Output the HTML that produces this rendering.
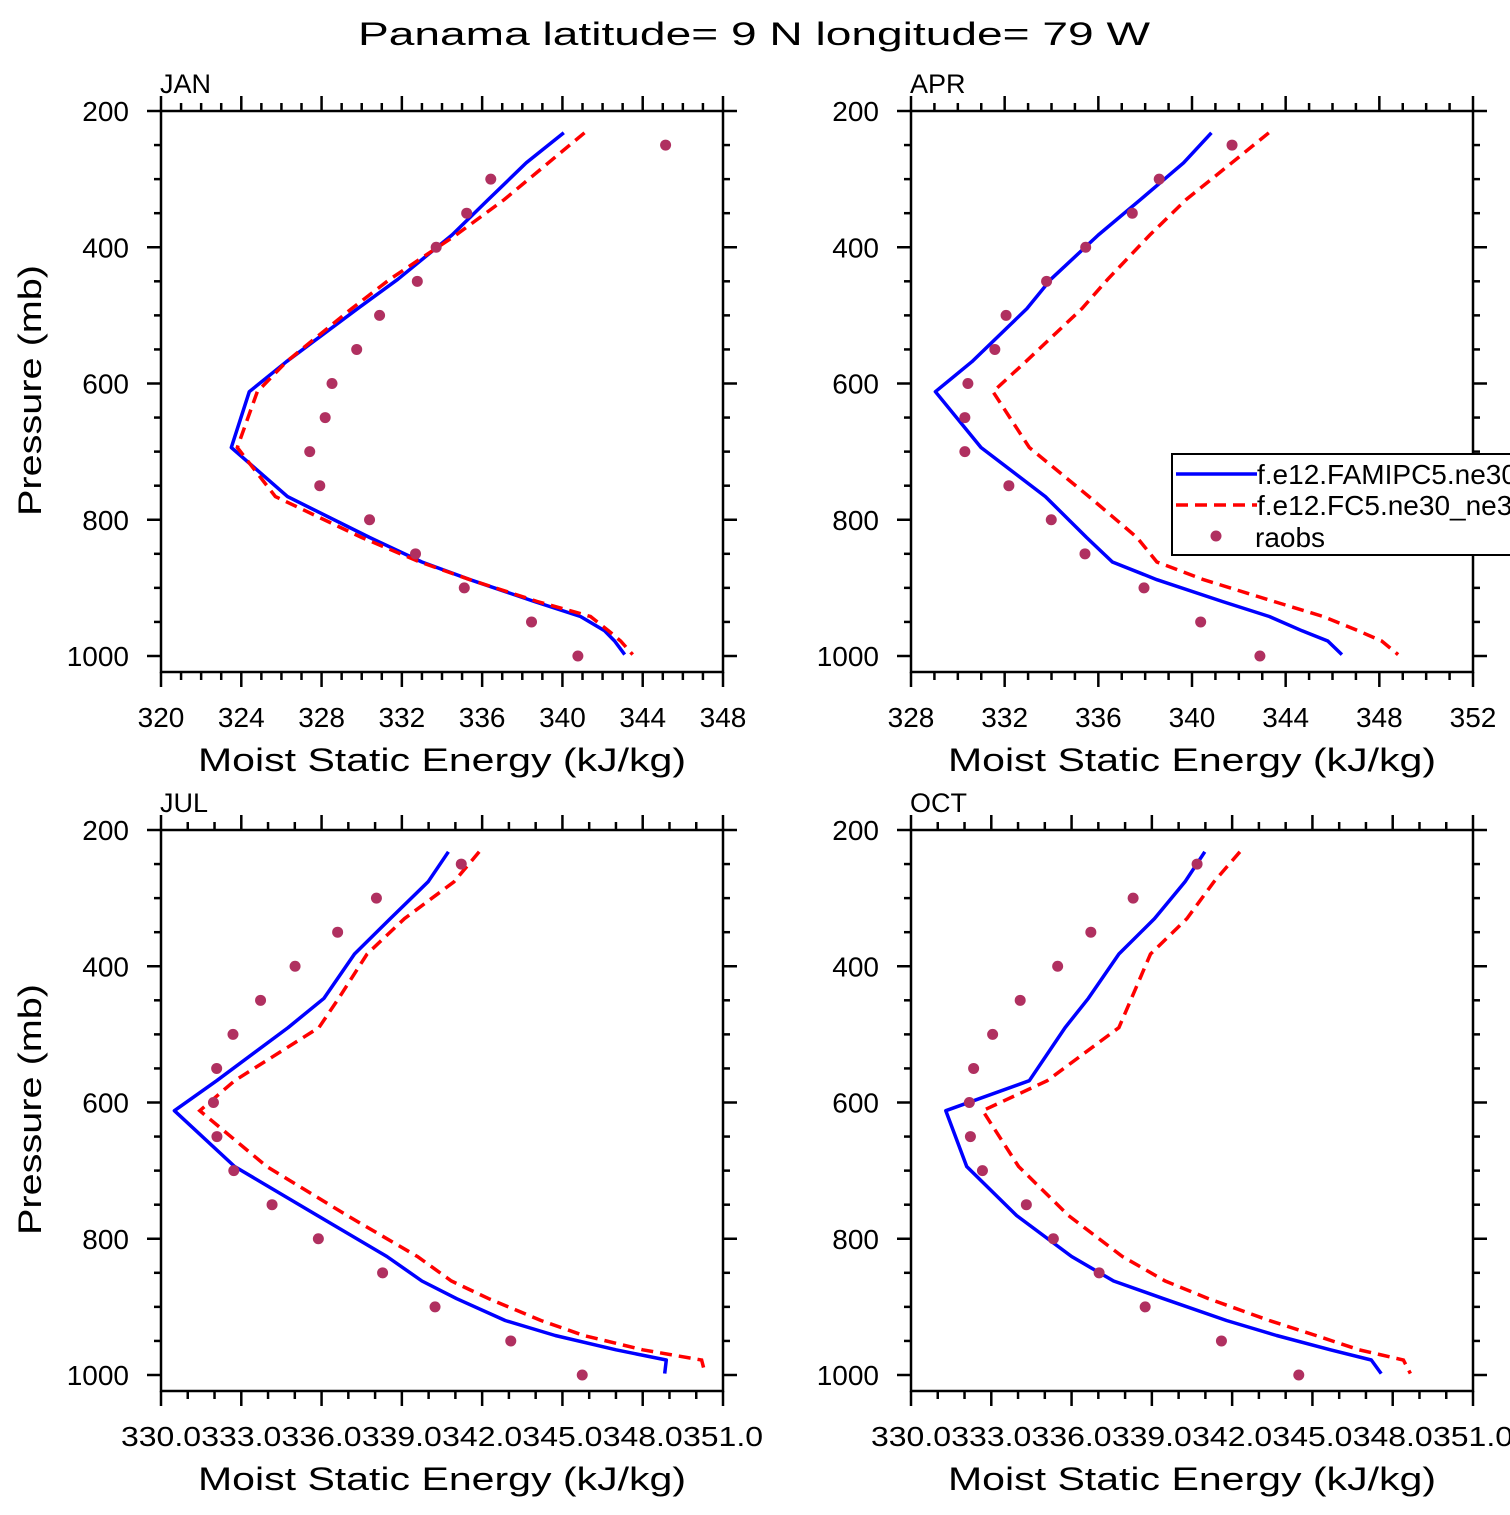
<!DOCTYPE html>
<html><head><meta charset="utf-8"><style>
html,body{margin:0;padding:0;background:#fff;}
svg text{font-family:"Liberation Sans",sans-serif;fill:#000;}
</style></head><body>
<svg id="chart" width="1510" height="1510" viewBox="0 0 1510 1510" xmlns="http://www.w3.org/2000/svg">
<text x="754" y="45" text-anchor="middle" font-size="32" textLength="792" lengthAdjust="spacingAndGlyphs">Panama  latitude= 9 N longitude= 79 W</text>
</svg>
<script>
// model levels (mb) and raob levels (mb)
const modelLevels = [232,276,330,382,447,490,568,612,694,766,826,862,888,920,942,963,978,998];
const raobLevels = [250,300,350,400,450,500,550,600,650,700,750,800,850,900,950,1000];
const panelNames = ['JAN','APR','JUL','OCT'];
const xTickLabelsJan = ['320','324','328','332','336','340','344','348'];
const xTickLabelsApr = ['328','332','336','340','344','348','352'];
const xTickLabelsJul = ['330.0','333.0','336.0','339.0','342.0','345.0','348.0','351.0'];
const xTickLabelsOct = ['330.0','333.0','336.0','339.0','342.0','345.0','348.0','351.0'];
const yTickLabels = ['200','400','600','800','1000'];
const janBlue = [340.07,338.2,336.3,334.5,331.8,329.8,326.25,324.4,323.5,326.3,330.4,333.0,335.4,338.6,340.9,342.1,342.6,343.1];
const janRed = [341.1,339.3,337.1,334.7,331.4,329.5,326.25,324.8,323.8,325.7,330.0,332.9,335.4,338.75,341.4,342.3,342.9,343.5];
const janRaobs = [345.14,336.43,335.23,333.71,332.77,330.89,329.75,328.52,328.18,327.41,327.91,330.39,332.68,335.11,338.46,340.77];
const aprBlue = [340.83,339.64,337.8,336.0,333.97,332.95,330.6,329.04,330.99,333.74,335.5,336.6,338.5,341.3,343.3,344.7,345.8,346.4];
const aprRed = [343.28,341.7,339.75,338.2,336.4,335.3,332.9,331.5,333.05,335.6,337.65,338.5,340.5,343.5,345.6,347.1,348.1,348.8];
const aprRaobs = [341.71,338.6,337.45,335.46,333.79,332.06,331.58,330.43,330.30,330.30,332.18,333.99,335.43,337.95,340.37,342.90];
const julBlue = [340.74,339.98,338.57,337.23,336.09,334.75,332.08,330.5,332.75,335.85,338.44,339.75,341.05,342.86,344.73,347.0,348.88,348.82];
const julRed = [341.89,340.95,339.1,337.7,336.64,335.9,332.75,331.45,333.95,336.96,339.58,340.85,342.25,344.2,345.8,348.0,350.2,350.33];
const julRaobs = [341.22,338.05,336.60,335.01,333.72,332.69,332.08,331.96,332.09,332.72,334.15,335.88,338.28,340.24,343.07,345.74];
const octBlue = [340.98,340.24,339.1,337.77,336.63,335.76,334.42,331.3,332.08,333.95,336.0,337.57,339.44,341.79,343.66,345.67,347.2,347.57];
const octRed = [342.29,341.32,340.31,338.95,338.24,337.77,335.09,332.68,334.02,335.89,337.9,339.5,341.12,343.39,345.13,346.74,348.4,348.66];
const octRaobs = [340.69,338.30,336.72,335.48,334.08,333.05,332.34,332.18,332.22,332.67,334.31,335.32,337.03,338.75,341.60,344.49];
const legendLabels = ['f.e12.FAMIPC5.ne30_g16.amip','f.e12.FC5.ne30_ne30.001','raobs'];

const NS='http://www.w3.org/2000/svg';
const svg=document.getElementById('chart');
function mk(tag,attrs,parent){const e=document.createElementNS(NS,tag);for(const k in attrs)e.setAttribute(k,attrs[k]);(parent||svg).appendChild(e);return e;}

const panels=[
 {name:panelNames[0],x0:161,y0:111,xmin:320,xmax:348,xmaj:4,xminor:1,labels:xTickLabelsJan,blue:janBlue,red:janRed,raobs:janRaobs,left:true,fit:false},
 {name:panelNames[1],x0:911,y0:111,xmin:328,xmax:352,xmaj:4,xminor:1,labels:xTickLabelsApr,blue:aprBlue,red:aprRed,raobs:aprRaobs,left:false,fit:false,legend:true},
 {name:panelNames[2],x0:161,y0:830,xmin:330,xmax:351,xmaj:3,xminor:1,labels:xTickLabelsJul,blue:julBlue,red:julRed,raobs:julRaobs,left:true,fit:true},
 {name:panelNames[3],x0:911,y0:830,xmin:330,xmax:351,xmaj:3,xminor:1,labels:xTickLabelsOct,blue:octBlue,red:octRed,raobs:octRaobs,left:false,fit:true}
];
const W=562,H=561,PPM=545/800;

panels.forEach(p=>{
  const key=p.name.toLowerCase();
  const g=mk('g',{});
  
  
  const xs=v=>p.x0+(v-p.xmin)/(p.xmax-p.xmin)*W;
  const ys=pr=>p.y0+(pr-200)*PPM;
  const clipId='clip-'+key;
  const cp=mk('clipPath',{id:clipId},g);
  mk('rect',{x:p.x0,y:p.y0,width:W,height:H},cp);
  const tg=mk('g',{stroke:'#000','stroke-width':2.5},g);
  
  
  const nMin=Math.round((p.xmax-p.xmin)/p.xminor);
  for(let i=0;i<=nMin;i++){
    const v=p.xmin+i*p.xminor;const x=xs(v);
    const major=Math.abs(((v-p.xmin)/p.xmaj)-Math.round((v-p.xmin)/p.xmaj))<1e-6;
    const L=major?15:8;
    mk('line',{x1:x,x2:x,y1:p.y0+H,y2:p.y0+H+L},tg);
    mk('line',{x1:x,x2:x,y1:p.y0,y2:p.y0-L},tg);
  }
  for(let pr=200;pr<=1000;pr+=50){
    const y=ys(pr);const major=pr%200===0;const L=major?14:7;
    mk('line',{x1:p.x0,x2:p.x0-L,y1:y,y2:y},tg);
    mk('line',{x1:p.x0+W,x2:p.x0+W+L,y1:y,y2:y},tg);
  }
  const box=mk('rect',{x:p.x0,y:p.y0,width:W,height:H,fill:'none',stroke:'#000','stroke-width':2.5},g);
  
  
  p.labels.forEach((lab,i)=>{
    const t=mk('text',{x:xs(p.xmin+i*p.xmaj),y:p.y0+H+55,'text-anchor':'middle','font-size':28},g);
    if(p.fit){t.setAttribute('textLength',80);t.setAttribute('lengthAdjust','spacingAndGlyphs');}
    t.textContent=lab;
    
    
  });
  yTickLabels.forEach(lab=>{
    const t=mk('text',{x:p.x0-32,y:ys(+lab)+10,'text-anchor':'end','font-size':28},g);
    t.textContent=lab;
    
    
  });
  const xt=mk('text',{x:p.x0+W/2,y:p.y0+H+99,'text-anchor':'middle','font-size':32,textLength:488,lengthAdjust:'spacingAndGlyphs'},g);
  xt.textContent='Moist Static Energy (kJ/kg)';
  
  
  if(p.left){
    const yt=mk('text',{x:0,y:0,'text-anchor':'middle','font-size':32,textLength:251,lengthAdjust:'spacingAndGlyphs',transform:'translate(41,'+(p.y0+H/2-1)+') rotate(-90)'},g);
    yt.textContent='Pressure (mb)';
    
    
  }
  const pt=mk('text',{x:p.x0-1,y:p.y0-18,'font-size':27},g);
  pt.textContent=p.name;
  
  
  const dg=mk('g',{'clip-path':'url(#'+clipId+')'},g);
  const ptsB=p.blue.map((v,i)=>xs(v).toFixed(1)+','+ys(modelLevels[i]).toFixed(1)).join(' ');
  const lb=mk('polyline',{points:ptsB,fill:'none',stroke:'#0000ff','stroke-width':3.5,'stroke-linejoin':'round'},dg);
  
  
  const ptsR=p.red.map((v,i)=>xs(v).toFixed(1)+','+ys(modelLevels[i]).toFixed(1)).join(' ');
  const lr=mk('polyline',{points:ptsR,fill:'none',stroke:'#ff0000','stroke-width':3.5,'stroke-dasharray':'12 7'},dg);
  
  
  p.raobs.forEach((v,i)=>{
    const c=mk('circle',{cx:xs(v),cy:ys(raobLevels[i]),r:5.5,fill:'#b03060'},dg);
    
    
  });
  if(p.legend){
    const lg=mk('g',{},g);
    
    
    mk('rect',{x:1172,y:454,width:340,height:101,fill:'#fff',stroke:'#000','stroke-width':2},lg);
    const e1=mk('line',{x1:1176,x2:1257,y1:474,y2:474,stroke:'#0000ff','stroke-width':3.5},lg);
    
    
    const e2=mk('line',{x1:1176,x2:1257,y1:505,y2:505,stroke:'#ff0000','stroke-width':3.5,'stroke-dasharray':'12 7'},lg);
    
    
    const e3=mk('circle',{cx:1216,cy:536,r:5.5,fill:'#b03060'},lg);
    
    
    [474,505,537].forEach((yy,i)=>{
      const t=mk('text',{x:i<2?1257:1255,y:yy+10,'font-size':28},lg);
      t.textContent=legendLabels[i];
      
      
    });
  }
});
</script>
</body></html>
